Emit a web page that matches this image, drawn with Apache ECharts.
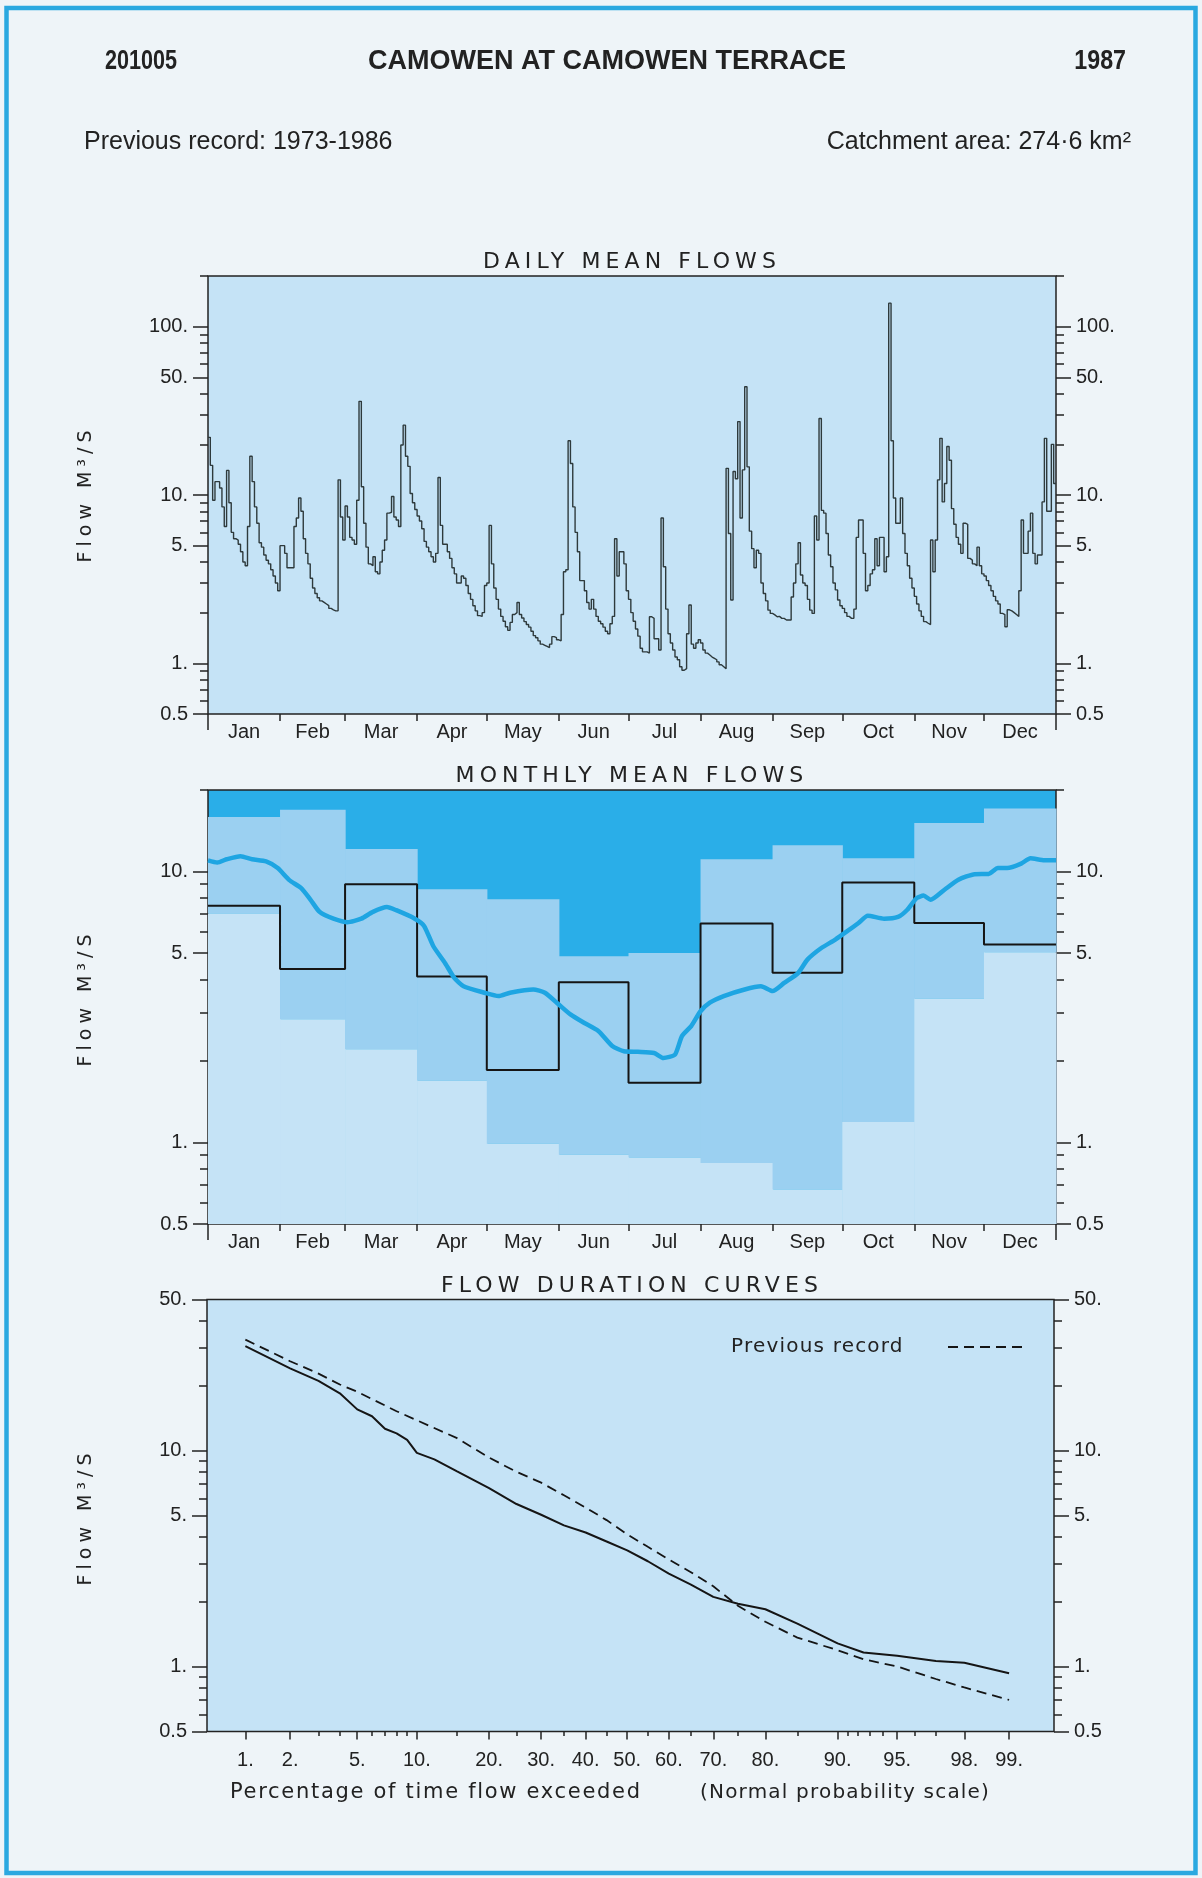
<!DOCTYPE html>
<html><head><meta charset="utf-8">
<script src="https://cdn.jsdelivr.net/npm/echarts@6/dist/echarts.min.js"></script>
<style>html,body{margin:0;padding:0;background:#eef4f8}#c{width:1202px;height:1878px}</style>
</head><body><div id="c"></div>
<script>
// ---------------- DATA ----------------
const monthNames = ['Jan','Feb','Mar','Apr','May','Jun','Jul','Aug','Sep','Oct','Nov','Dec'];
const monthDays  = [31,28,31,30,31,30,31,31,30,31,30,31];

// Daily mean flows 1987 (m3/s)
const dailyJan = [22,15,9.3,12,12,11,8.5,6.5,14,9,6,5.5,5.4,5.1,4.6,4.0,3.8,6.5,17,12,8.5,6.8,5.2,4.9,4.4,4.1,3.9,3.6,3.3,3.0,2.7];
const dailyFeb = [5.0,5.0,4.5,3.7,3.7,3.7,6.5,7.3,9.6,8.0,5.5,4.5,3.9,3.2,2.8,2.6,2.45,2.35,2.3,2.25,2.2,2.12,2.08,2.05,2.05,12.3,7.4,5.4];
const dailyMar = [8.6,7.4,5.6,5.4,5.1,9.3,36,11.2,6.8,4.9,3.9,3.8,4.3,3.5,3.4,4.0,4.7,5.4,7.8,7.9,9.8,7.4,7.1,6.5,19.8,26,17,14.8,10.2,9.0,8.2];
const dailyApr = [7.5,7.0,6.3,5.3,4.9,4.6,4.3,4.0,4.5,12.7,6.6,5.1,5.1,4.6,4.2,3.7,3.4,3.0,3.0,3.3,3.2,2.9,2.6,2.4,2.2,2.05,1.92,1.9,2.0,2.9];
const dailyMay = [3.0,6.6,3.9,2.8,2.4,2.1,1.9,1.78,1.65,1.57,1.75,1.95,2.0,2.3,1.95,1.86,1.77,1.7,1.64,1.55,1.46,1.42,1.36,1.30,1.28,1.26,1.24,1.30,1.44,1.42,1.38];
const dailyJun = [1.36,1.95,3.5,3.6,21,15.4,8.5,6.0,4.6,3.1,3.1,2.7,2.3,2.1,2.4,2.1,1.9,1.78,1.72,1.64,1.55,1.5,1.72,1.9,5.5,3.3,4.6,4.6,3.9,2.7];
const dailyJul = [2.4,2.0,1.78,1.6,1.45,1.23,1.17,1.17,1.15,1.89,1.85,1.4,1.4,1.2,7.3,3.75,2.1,1.5,1.32,1.2,1.09,1.05,0.955,0.91,0.93,1.5,2.22,1.3,1.23,1.32,1.38];
const dailyAug = [1.32,1.2,1.15,1.12,1.09,1.07,1.05,1.02,0.98,0.955,0.93,14.4,5.9,2.38,13.8,12.5,27.3,7.3,14.1,44,14.7,6.1,4.8,3.7,4.7,4.5,3.0,2.6,2.35,2.07,1.98];
const dailySep = [1.94,1.89,1.9,1.85,1.85,1.81,1.81,1.81,2.48,3.0,3.9,5.2,3.35,3.0,2.9,2.4,2.07,1.98,7.5,5.4,28.5,8.1,7.8,5.9,4.4,3.75,3.0,2.73,2.38,2.2];
const dailyOct = [2.12,2.0,1.9,1.85,1.85,2.1,5.6,7.1,7.1,4.5,2.7,2.9,3.4,3.6,5.5,3.8,5.6,5.6,3.5,4.3,138,21,9.6,6.8,6.8,9.6,5.9,4.5,3.8,3.2,2.8];
const dailyNov = [2.5,2.25,2.05,1.9,1.77,1.73,1.7,5.4,3.5,5.4,12.3,21.7,9.1,11.7,19.4,16.1,8.3,6.7,5.6,5.1,4.5,6.8,6.7,4.2,4.1,3.9,3.8,4.9,3.8,3.4];
const dailyDec = [3.3,3.1,2.9,2.7,2.5,2.35,2.25,1.98,1.95,1.65,2.08,2.05,2.0,1.95,1.9,2.7,7.1,4.5,4.5,6.1,7.8,4.5,3.9,4.4,4.4,9.1,21.7,8.0,8.0,20,11.7];

// Monthly mean flows
const monthly1987 = [7.48,4.37,8.97,4.1,1.85,3.9,1.66,6.43,4.23,9.12,6.46,5.38];
const prevMax     = [15.9,16.9,12.1,8.6,7.9,4.87,5.0,11.1,12.5,11.2,15.1,17.1];
const prevMin     = [7.0,2.85,2.21,1.69,0.99,0.90,0.88,0.84,0.67,1.19,3.39,5.04];
// Long-term (previous record) smoothed daily mean
const ltDays = [0,4,8,14,19,25,30,35,40,44,48,54,60,66,71,77,81,89,93,97,102,106,110,119,125,130,140,145,151,156,162,168,174,179,185,192,196,201,204,208,212,216,222,231,238,243,248,254,258,264,270,275,280,284,291,297,301,305,308,311,317,323,330,336,340,344,350,354,360,365];
const ltFlow = [11.0,10.8,11.1,11.4,11.1,10.9,10.3,9.3,8.7,7.9,7.1,6.7,6.5,6.7,7.1,7.4,7.2,6.7,6.3,5.3,4.6,4.05,3.77,3.57,3.47,3.57,3.67,3.57,3.23,2.97,2.76,2.58,2.27,2.17,2.16,2.14,2.05,2.11,2.47,2.69,3.05,3.28,3.47,3.67,3.77,3.62,3.88,4.22,4.73,5.22,5.61,6.01,6.46,6.87,6.7,6.8,7.23,7.98,8.15,7.87,8.57,9.33,9.78,9.8,10.3,10.3,10.7,11.2,11.0,11.0];

// Flow duration curves
const fdcPct1987  = [1,2,3,4,5,6,7,8,9,10,12,15,20,25,30,35,40,45,50,55,60,65,70,75,80,85,90,92.5,95,97,98,99];
const fdcFlow1987 = [30.4,24.0,21.0,18.4,15.5,14.4,12.6,12.0,11.2,9.75,9.1,8.0,6.7,5.65,5.04,4.5,4.17,3.79,3.45,3.07,2.69,2.40,2.10,1.95,1.84,1.58,1.28,1.16,1.12,1.06,1.04,0.93];
const fdcPctPrev  = [1,2,3,4,5,8,10,15,20,25,30,35,40,45,50,55,60,65,70,75,80,85,90,92.5,95,97,98,99];
const fdcFlowPrev = [32.6,25.9,22.7,20.2,18.7,15.2,13.8,11.4,9.27,7.96,7.1,6.2,5.44,4.76,4.09,3.58,3.13,2.74,2.35,1.91,1.61,1.36,1.19,1.08,1.0,0.875,0.80,0.70];

// Tick labels
const dailyMajor   = [0.5,1,5,10,50,100];
const dailyMinor   = [0.6,0.7,0.8,0.9,2,3,4,6,7,8,9,20,30,40,60,70,80,90,200];
const monthlyMajor = [0.5,1,5,10];
const monthlyMinor = [0.6,0.7,0.8,0.9,2,3,4,6,7,8,9,20];
const fdcMajor     = [0.5,1,5,10,50];
const fdcMinor     = [0.6,0.7,0.8,0.9,2,3,4,6,7,8,9,20,30,40];
const fdcXMajor    = [1,2,5,10,20,30,40,50,60,70,80,90,95,98,99];
const fdcXMinor    = [3,4,6,7,8,9,15,25,35,45,55,65,75,85,91,92,93,94,96,97];

// ---------------- letter spacing for the spaced captions ----------------
const SPACING = {'19':5, '20':1.2, '21':1.7, '22':5.1};
(function(){
  const proto = CanvasRenderingContext2D.prototype;
  const orig = proto.fillText;
  proto.fillText = function(t, x, y, w){
    const m = /(\d+(?:\.\d+)?)px\s+"?DejaVu Sans"?/.exec(this.font || '');
    if (m && SPACING[m[1]] && ('letterSpacing' in this)) {
      const prev = this.letterSpacing;
      this.letterSpacing = SPACING[m[1]] + 'px';
      const r = (w === undefined) ? orig.call(this, t, x, y) : orig.call(this, t, x, y, w);
      this.letterSpacing = prev;
      return r;
    }
    return (w === undefined) ? orig.call(this, t, x, y) : orig.call(this, t, x, y, w);
  };
})();

// ---------------- helpers ----------------
function probit(p){
  const a=[-3.969683028665376e+01,2.209460984245205e+02,-2.759285104469687e+02,1.383577518672690e+02,-3.066479806614716e+01,2.506628277459239e+00];
  const b=[-5.447609879822406e+01,1.615858368580409e+02,-1.556989798598866e+02,6.680131188771972e+01,-1.328068155288572e+01];
  const c=[-7.784894002430293e-03,-3.223964580411365e-01,-2.400758277161838e+00,-2.549732539343734e+00,4.374664141464968e+00,2.938163982698783e+00];
  const d=[7.784695709041462e-03,3.224671290700398e-01,2.445134137142996e+00,3.754408661907416e+00];
  const pl=0.02425, ph=1-pl; let q, r;
  if (p < pl) { q=Math.sqrt(-2*Math.log(p)); return (((((c[0]*q+c[1])*q+c[2])*q+c[3])*q+c[4])*q+c[5])/((((d[0]*q+d[1])*q+d[2])*q+d[3])*q+1); }
  if (p <= ph) { q=p-0.5; r=q*q; return (((((a[0]*r+a[1])*r+a[2])*r+a[3])*r+a[4])*r+a[5])*q/(((((b[0]*r+b[1])*r+b[2])*r+b[3])*r+b[4])*r+1); }
  q=Math.sqrt(-2*Math.log(1-p)); return -(((((c[0]*q+c[1])*q+c[2])*q+c[3])*q+c[4])*q+c[5])/((((d[0]*q+d[1])*q+d[2])*q+d[3])*q+1);
}
const INK = '#222222';
const LABEL_FONT = 'Liberation Sans';
const CAP_FONT = 'DejaVu Sans';
const BRIGHT = '#2aaee8', MED = '#9bd0f1', LIGHT = '#c5e3f6';
const NO_LINE = {show:false, onZero:false};

const monthStart = [];
monthDays.reduce((acc, d, i) => { monthStart[i] = acc; return acc + d; }, 0);
const monthMid = monthStart.map((s, i) => s + monthDays[i] / 2);
const dailyFlow = [].concat(dailyJan, dailyFeb, dailyMar, dailyApr, dailyMay, dailyJun, dailyJul, dailyAug, dailySep, dailyOct, dailyNov, dailyDec);

function nearestIdx(arr, v){ let bi=0, bd=Infinity; arr.forEach((a,i)=>{const dd=Math.abs(a-v); if(dd<bd){bd=dd;bi=i;}}); return bi; }
function fmtFlow(t){ return t < 1 ? String(t) : t + '.'; }

function tickAxes(grid, lo, hi, majors, minors){
  const L = Math.log10;
  const min = L(lo) - 1e-9, max = L(hi) + 1e-9;
  const fmt = v => fmtFlow(majors[nearestIdx(majors.map(L), v)]);
  const mk = (pos, vals, len, labels) => ({
    type: 'value', gridIndex: grid, min: min, max: max, position: pos,
    splitLine: {show:false}, axisLine: NO_LINE,
    axisTick: {show:true, customValues: vals.map(L), length: len, lineStyle: {color: INK, width: 1.5}},
    axisLabel: labels ? {show:true, customValues: majors.map(L), formatter: fmt, margin: 20, color: INK, fontSize: 20, fontFamily: LABEL_FONT} : {show:false}
  });
  return [mk('left', majors, 15, true), mk('left', minors, 8, false), mk('right', majors, 15, true), mk('right', minors, 8, false)];
}
function logAxis(grid, lo, hi){
  return {type:'log', logBase:10, gridIndex: grid, min: lo, max: hi, show: false, axisLine: NO_LINE, splitLine:{show:false}};
}
function monthAxes(grid){
  return [{
    type:'value', gridIndex:grid, min:0, max:365, position:'bottom', splitLine:{show:false}, axisLine: NO_LINE,
    axisTick:{show:true, customValues: monthStart.slice(1), length:7, lineStyle:{color:INK, width:1.5}},
    axisLabel:{show:true, customValues: monthMid, formatter: v => monthNames[nearestIdx(monthMid, v)], margin: 8, fontSize: 20, color: INK, fontFamily: LABEL_FONT}
  },{
    type:'value', gridIndex:grid, min:0, max:365, position:'bottom', splitLine:{show:false}, axisLine: NO_LINE,
    axisTick:{show:true, customValues:[0,365], length:16, lineStyle:{color:INK, width:1.5}},
    axisLabel:{show:false}
  }];
}
const zMin = -2.56, zMax = 2.60;
const fdcXAxes = [{
  type:'value', gridIndex:2, min:zMin, max:zMax, position:'bottom', splitLine:{show:false}, axisLine: NO_LINE,
  axisTick:{show:true, customValues: fdcXMajor.map(p=>probit(p/100)), length:8, lineStyle:{color:INK, width:1.5}},
  axisLabel:{show:true, customValues: fdcXMajor.map(p=>probit(p/100)),
    formatter: v => fdcXMajor[nearestIdx(fdcXMajor.map(p=>probit(p/100)), v)] + '.', margin: 19, fontSize: 20, color: INK, fontFamily: LABEL_FONT}
},{
  type:'value', gridIndex:2, min:zMin, max:zMax, position:'bottom', splitLine:{show:false}, axisLine: NO_LINE,
  axisTick:{show:true, customValues: fdcXMinor.map(p=>probit(p/100)), length:4.5, lineStyle:{color:INK, width:1.5}},
  axisLabel:{show:false}
}];

const gridBase = {show:true, borderColor: INK, borderWidth: 1.5, outerBoundsMode: 'none', containLabel: false};
const grids = [
  Object.assign({}, gridBase, {left:208, top:276, width:848, height:438, backgroundColor: LIGHT}),
  Object.assign({}, gridBase, {left:208, top:790, width:848, height:434, backgroundColor: BRIGHT}),
  Object.assign({}, gridBase, {left:207, top:1299.5, width:847, height:432, backgroundColor: LIGHT})
];

const xAxes = [].concat(monthAxes(0), monthAxes(1), fdcXAxes);   // 0,1 | 2,3 | 4,5
const yAxes = [].concat(
  [logAxis(0, 0.5, 200)], tickAxes(0, 0.5, 200, dailyMajor, dailyMinor),      // 0..4
  [logAxis(1, 0.5, 20)],  tickAxes(1, 0.5, 20, monthlyMajor, monthlyMinor),   // 5..9
  [logAxis(2, 0.5, 50)],  tickAxes(2, 0.5, 50, fdcMajor, fdcMinor)            // 10..14
);

const dailyData = dailyFlow.map((v, i) => [i, v]);
dailyData.push([365, dailyFlow[dailyFlow.length - 1]]);
const monthlyData = monthly1987.map((v, i) => [monthStart[i], v]);
monthlyData.push([365, monthly1987[11]]);
const bandData = monthNames.map((m, i) => [monthStart[i], monthStart[i] + monthDays[i], prevMin[i], prevMax[i]]);

const series = [
  {type:'line', name:'Daily 1987', xAxisIndex:0, yAxisIndex:0, data: dailyData, step:'end', symbol:'none',
   lineStyle:{color:'#2e3a3c', width:1.4}, z:3},
  {type:'custom', name:'Previous record range', xAxisIndex:2, yAxisIndex:5, data: bandData, z:1,
   renderItem: function(params, api){
     const top = api.coord([api.value(0), api.value(3)]);
     const mid = api.coord([api.value(1), api.value(2)]);
     const bot = api.coord([api.value(1), 0.5]);
     const w = mid[0] - top[0] + 0.6;
     return {type:'group', children:[
       {type:'rect', shape:{x: top[0], y: top[1], width: w, height: mid[1] - top[1]}, style:{fill: MED}},
       {type:'rect', shape:{x: top[0], y: mid[1], width: w, height: bot[1] - mid[1]}, style:{fill: LIGHT}}
     ]};
   }},
  {type:'line', name:'Monthly 1987', xAxisIndex:2, yAxisIndex:5, data: monthlyData, step:'end', symbol:'none',
   lineStyle:{color:'#151515', width:2}, z:3},
  {type:'line', name:'Long-term mean', xAxisIndex:2, yAxisIndex:5, data: ltDays.map((d, i) => [d, ltFlow[i]]),
   smooth:0.2, symbol:'none', lineStyle:{color:'#1ea5e2', width:4.5}, z:4},
  {type:'line', name:'1987', xAxisIndex:4, yAxisIndex:10, data: fdcPct1987.map((p, i) => [probit(p/100), fdcFlow1987[i]]),
   symbol:'none', lineStyle:{color:'#151515', width:2}, z:3},
  {type:'line', name:'Previous record', xAxisIndex:4, yAxisIndex:10, data: fdcPctPrev.map((p, i) => [probit(p/100), fdcFlowPrev[i]]),
   symbol:'none', lineStyle:{color:'#151515', width:1.8, type:[10,6]}, z:3}
];

function txt(x, y, text, o){
  return Object.assign({type:'text', x:x, y:y, silent:true, z:100,
    style: Object.assign({text:text, fill:INK, fontSize:20, fontFamily:LABEL_FONT, align:'left', verticalAlign:'middle'}, o.style || {})},
    o.el || {});
}
const graphics = [
  {type:'rect', silent:true, z:0, shape:{x:6.5, y:8, width:1189, height:1865}, style:{fill:'transparent', stroke:'#2aa8e0', lineWidth:4.5}},
  txt(105, 62, '201005', {style:{fontSize:27, fontWeight:'bold'}, el:{scaleX:0.8}}),
  txt(607, 62, 'CAMOWEN AT CAMOWEN TERRACE', {style:{fontSize:27, fontWeight:'bold', align:'center'}}),
  txt(1126, 62, '1987', {style:{fontSize:27, fontWeight:'bold', align:'right'}, el:{scaleX:0.86}}),
  txt(84, 142.5, 'Previous record: 1973-1986', {style:{fontSize:25}}),
  txt(1131, 142.5, 'Catchment area: 274·6 km²', {style:{fontSize:25, align:'right'}}),
  txt(632, 262, 'DAILY MEAN FLOWS', {style:{fontSize:22, fontFamily:CAP_FONT, align:'center'}}),
  txt(632, 776, 'MONTHLY MEAN FLOWS', {style:{fontSize:22, fontFamily:CAP_FONT, align:'center'}}),
  txt(632, 1286, 'FLOW DURATION CURVES', {style:{fontSize:22, fontFamily:CAP_FONT, align:'center'}}),
  txt(86, 494, 'Flow M³/S', {style:{fontSize:19, fontFamily:CAP_FONT, align:'center'}, el:{rotation:Math.PI/2}}),
  txt(86, 998, 'Flow M³/S', {style:{fontSize:19, fontFamily:CAP_FONT, align:'center'}, el:{rotation:Math.PI/2}}),
  txt(86, 1517, 'Flow M³/S', {style:{fontSize:19, fontFamily:CAP_FONT, align:'center'}, el:{rotation:Math.PI/2}}),
  txt(230, 1793, 'Percentage of time flow exceeded', {style:{fontSize:21, fontFamily:CAP_FONT}}),
  txt(700, 1793, '(Normal probability scale)', {style:{fontSize:20, fontFamily:CAP_FONT}}),
  txt(731, 1347, 'Previous record', {style:{fontSize:20, fontFamily:CAP_FONT}}),
  {type:'line', silent:true, z:100, shape:{x1:948, y1:1347, x2:1025, y2:1347}, style:{stroke:'#151515', lineWidth:1.8, lineDash:[10,6]}}
];

const chart = echarts.init(document.getElementById('c'), null, {renderer:'canvas', width:1202, height:1878});
chart.setOption({
  backgroundColor: '#eef4f8',
  animation: false,
  grid: grids,
  xAxis: xAxes,
  yAxis: yAxes,
  series: series,
  graphic: graphics
});
</script></body></html>
